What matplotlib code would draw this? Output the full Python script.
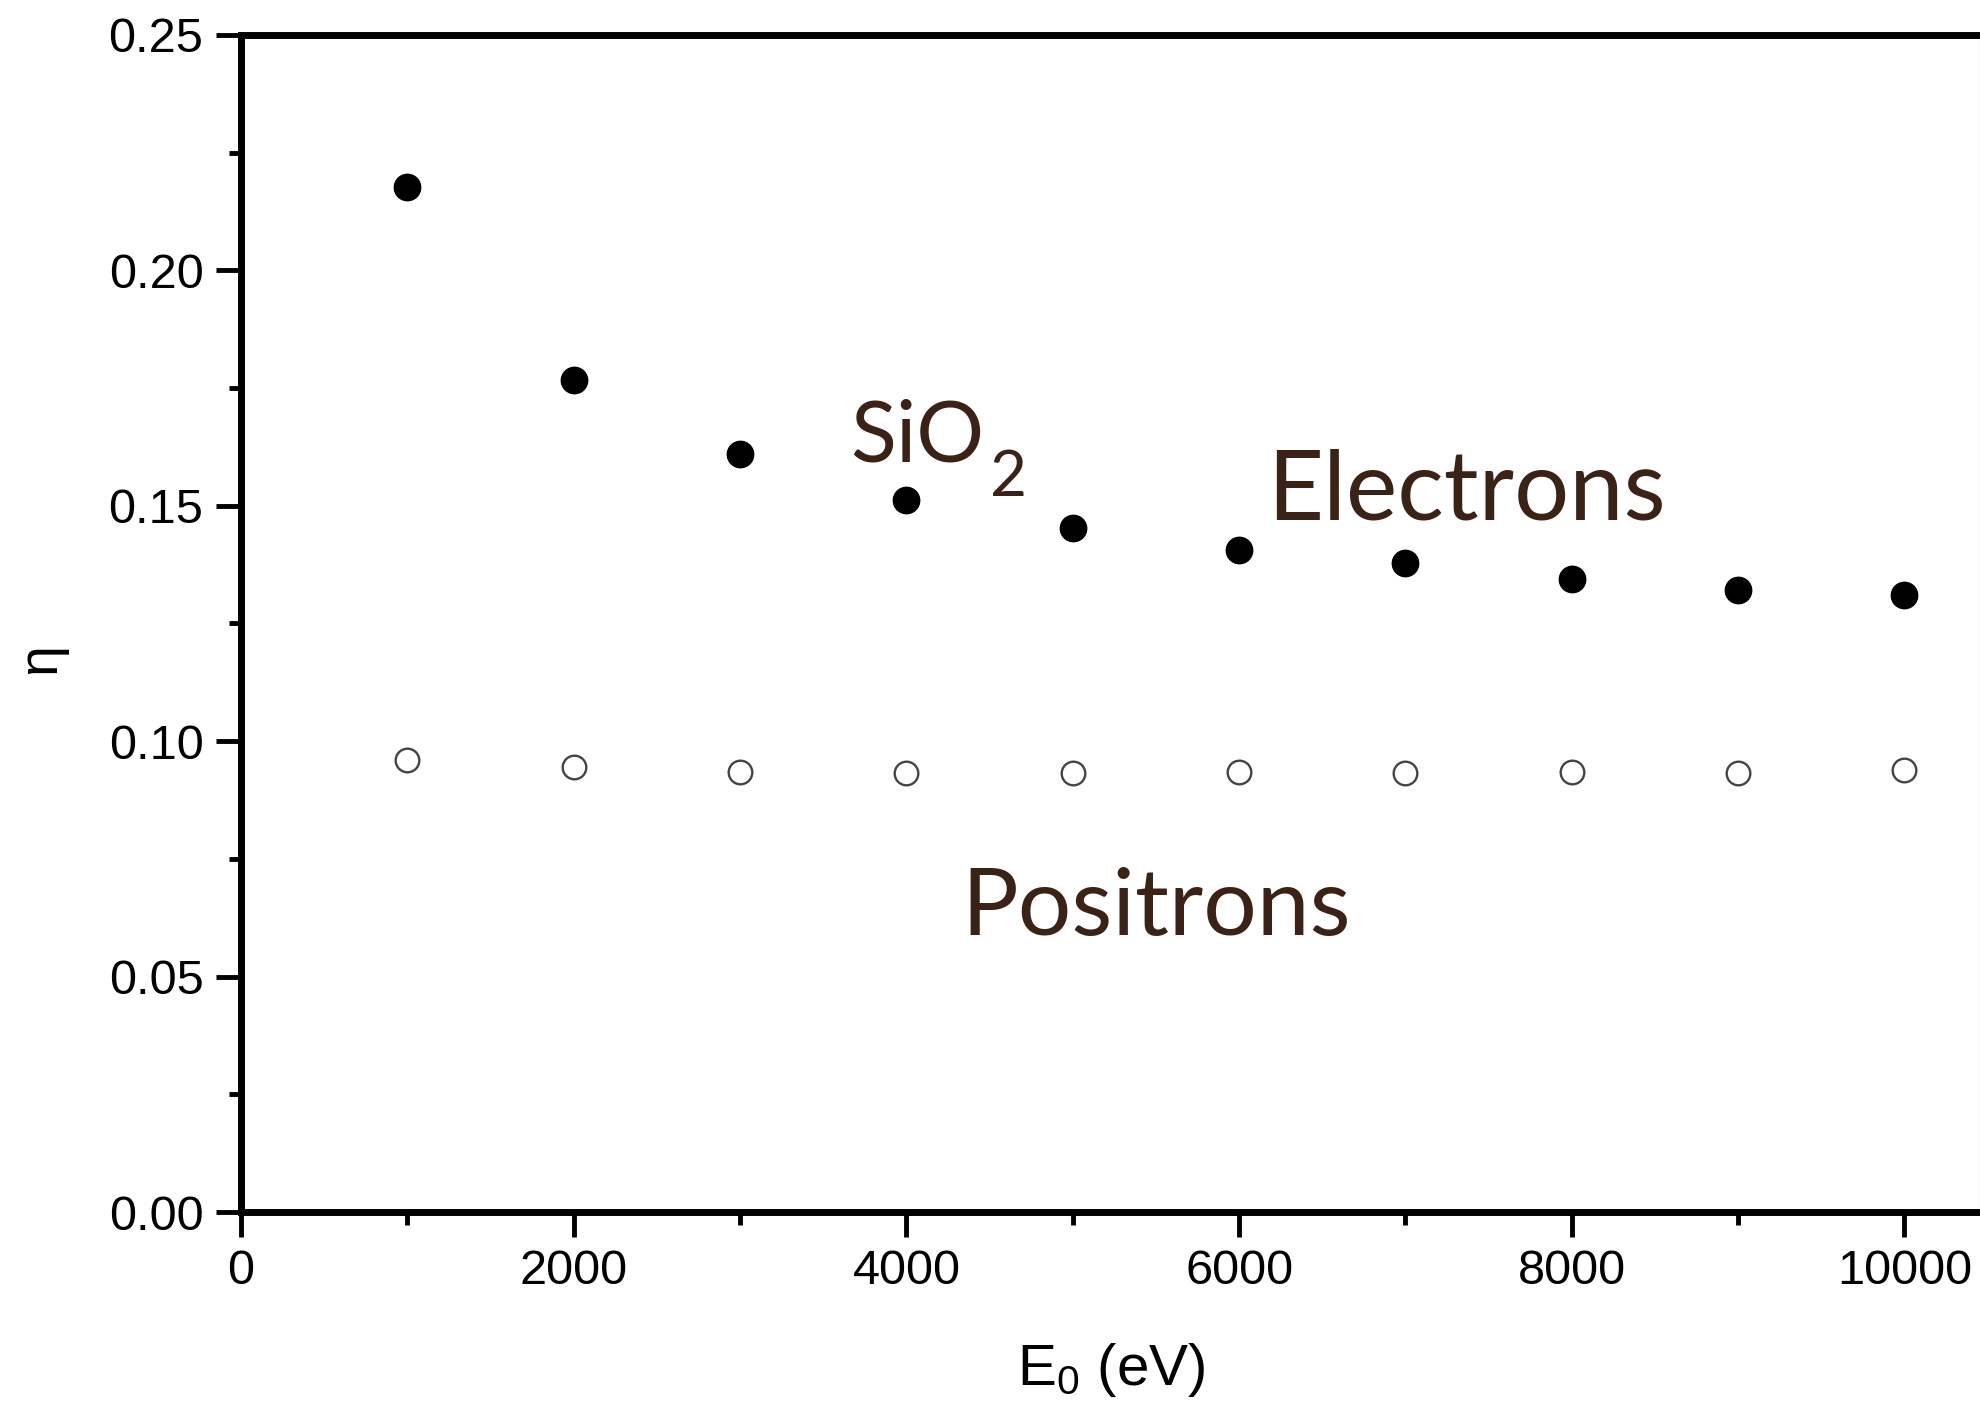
import matplotlib
matplotlib.use("Agg")
import matplotlib.pyplot as plt
from matplotlib.ticker import MultipleLocator

# backscattering coefficient vs primary energy, SiO2
energy = [1000, 2000, 3000, 4000, 5000, 6000, 7000, 8000, 9000, 10000]
eta_electrons = [0.2178, 0.1767, 0.1611, 0.1512, 0.1452, 0.1406, 0.1378, 0.1344, 0.1321, 0.1311]
eta_positrons = [0.0960, 0.0945, 0.0935, 0.0933, 0.0933, 0.0935, 0.0933, 0.0935, 0.0933, 0.0939]

plt.rcParams['font.family'] = ['Liberation Sans', 'DejaVu Sans']
plt.rcParams['mathtext.fontset'] = 'custom'
plt.rcParams['mathtext.rm'] = 'Liberation Sans'
plt.rcParams['mathtext.it'] = 'Liberation Sans'

fig = plt.figure(figsize=(19.81, 14.08), dpi=100)
ax = fig.add_axes([241 / 1981, 1 - 1212 / 1408, 1 - 241 / 1981, (1212 - 35) / 1408])

ax.plot(energy, eta_electrons, 'o', color='black', markersize=19, linestyle='none')
ax.plot(energy, eta_positrons, 'o', markerfacecolor='white', markeredgecolor='#444444',
        markeredgewidth=1.7, markersize=17, linestyle='none')

ax.set_xlim(0, 10460)
ax.set_ylim(0, 0.25)
ax.xaxis.set_major_locator(MultipleLocator(2000))
ax.xaxis.set_minor_locator(MultipleLocator(1000))
ax.yaxis.set_major_locator(MultipleLocator(0.05))
ax.yaxis.set_minor_locator(MultipleLocator(0.025))
ax.yaxis.set_major_formatter(lambda v, pos: f"{v:.2f}")

ax.tick_params(which='major', length=18, width=3.5, direction='out', labelsize=35, pad=9)
ax.tick_params(which='minor', length=9, width=3.5, direction='out')
ax.tick_params(top=False, right=False, which='both')

for side in ['left', 'bottom', 'top']:
    ax.spines[side].set_linewidth(5)
ax.spines['right'].set_linewidth(1.5)
ax.spines['right'].set_color('#888888')

ax.set_xlabel(r"E$_\mathrm{0}$ (eV)", fontsize=42)
ax.xaxis.set_label_coords(0.5, -0.11)
ax.set_ylabel(u"\u03b7", fontsize=40)
ax.yaxis.set_label_coords(-0.1, 0.47)

brown = '#3b2217'
handfont = ['Lato', 'DejaVu Sans']
sio = ax.text(3660, 0.1595, "SiO", fontsize=61, color=brown, family=handfont)
ax.annotate("2", xy=(1, 0), xycoords=sio, xytext=(4, -14), textcoords='offset points',
            fontsize=46, color=brown, family=handfont, va='baseline')
ax.text(6170, 0.1470, "Electrons", fontsize=70, color=brown, family=handfont)
ax.text(4330, 0.0588, "Positrons", fontsize=68, color=brown, family=handfont)

fig.savefig("out.png", dpi=100)
